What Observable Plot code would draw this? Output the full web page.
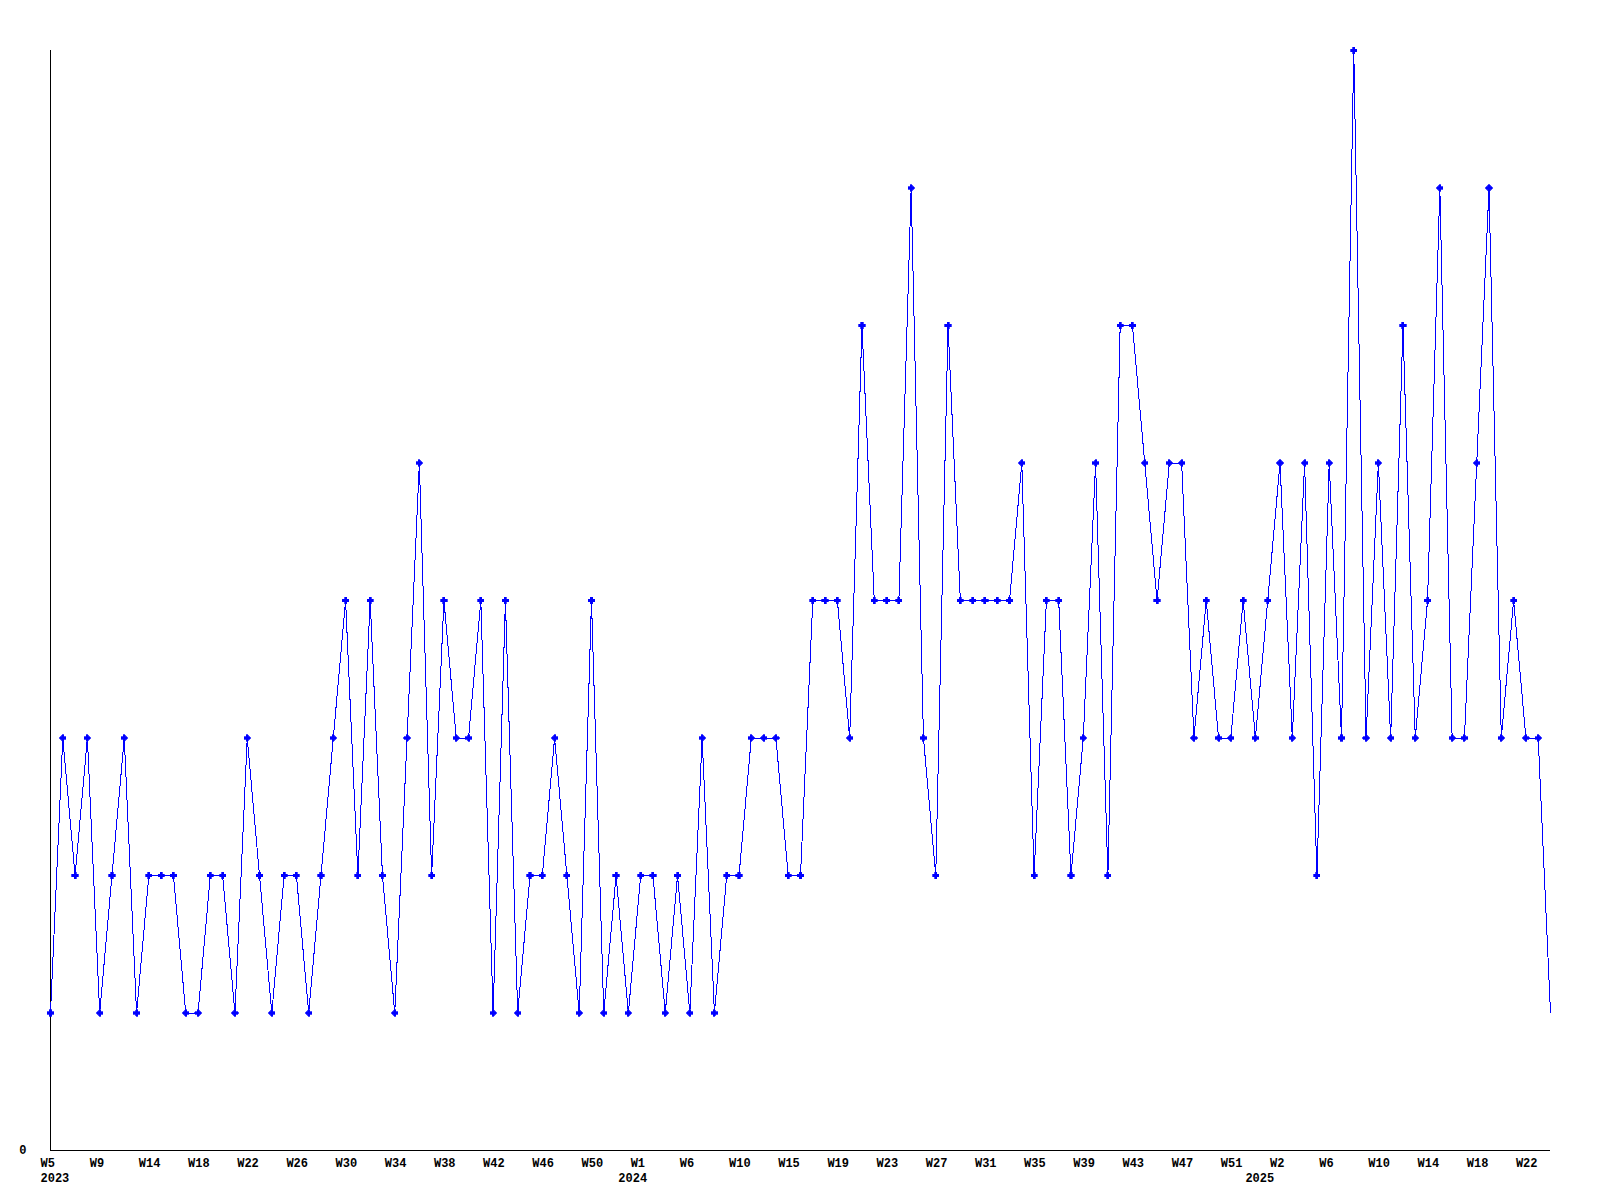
<!DOCTYPE html>
<html>
<head>
<meta charset="utf-8">
<script src="https://cdn.jsdelivr.net/npm/d3@7"></script>
<script src="https://cdn.jsdelivr.net/npm/@observablehq/plot@0.6"></script>
<style>
  html, body { margin: 0; padding: 0; background: #fff; }
  #chart svg { display: block; }
</style>
</head>
<body>
<div id="chart"></div>
<script>
// Weekly counts, first point = 2023 W5
const values = [
  1,3,2,3,1,2,3,1,2,2,
  2,1,1,2,2,1,3,2,1,2,
  2,1,2,3,4,2,4,2,1,3,
  5,2,4,3,3,4,1,4,1,2,
  2,3,2,1,4,1,2,1,2,2,
  1,2,1,3,1,2,2,3,3,3,
  2,2,4,4,4,3,6,4,4,4,
  7,3,2,6,4,4,4,4,4,5,
  2,4,4,2,3,5,2,6,6,5,
  4,5,5,3,4,3,3,4,3,4,
  5,3,5,2,5,3,8,3,5,3,
  6,3,4,7,3,3,5,7,3,4,
  3,3,1
];

// Tick labels, one every fourth week point
const weekLabels = ["W5","W9","W14","W18","W22","W26","W30","W34","W38","W42","W46","W50",
  "W1","W6","W10","W15","W19","W23","W27","W31","W35","W39","W43","W47","W51",
  "W2","W6","W10","W14","W18","W22"];
const yearLabels = ["2023","2024","2025"];
const yearAt = [0, 47, 98];   // week index where each year label sits

const data = values.map((v, i) => ({i, v}));
const weekTicks = weekLabels.map((_, k) => k * 4);

const font = "'Liberation Mono', 'DejaVu Sans Mono', monospace";

const chart = Plot.plot({
  width: 1600,
  height: 1200,
  marginLeft: 50,
  marginRight: 50,
  marginTop: 50,
  marginBottom: 50,
  style: {background: "#fff", fontFamily: font, fontSize: "12px", fontWeight: "bold", color: "#000"},
  x: {type: "linear", domain: [0, values.length - 1], axis: null},
  y: {domain: [0, 8], axis: null},
  marks: [
    Plot.ruleX([0], {stroke: "#000", strokeWidth: 1, shapeRendering: "crispEdges"}),
    Plot.ruleY([0], {stroke: "#000", strokeWidth: 1, shapeRendering: "crispEdges"}),
    Plot.axisY({ticks: [0], tickSize: 0, tickPadding: 24, tickFormat: d => String(d),
      fontFamily: font, fontSize: 12, fontWeight: "bold", fill: "#000", label: null}),
    Plot.axisX({ticks: weekTicks, tickSize: 0, tickPadding: 8,
      tickFormat: d => weekLabels[weekTicks.indexOf(d)],
      textAnchor: "start", dx: -10,
      fontFamily: font, fontSize: 12, fontWeight: "bold", fill: "#000", label: null}),
    Plot.axisX({ticks: yearAt, tickSize: 0, tickPadding: 23,
      tickFormat: d => yearLabels[yearAt.indexOf(d)],
      textAnchor: "start", dx: -10,
      fontFamily: font, fontSize: 12, fontWeight: "bold", fill: "#000", label: null}),
    Plot.line(data, {x: "i", y: "v", stroke: "#0000ff", strokeWidth: 1, shapeRendering: "crispEdges"}),
    Plot.dot(data.slice(0, -1), {x: "i", y: "v", symbol: "cross", r: 2.6, fill: "#0000ff", stroke: "#0000ff", strokeWidth: 0.7, shapeRendering: "crispEdges"})
  ]
});

document.getElementById("chart").appendChild(chart);
</script>
</body>
</html>
